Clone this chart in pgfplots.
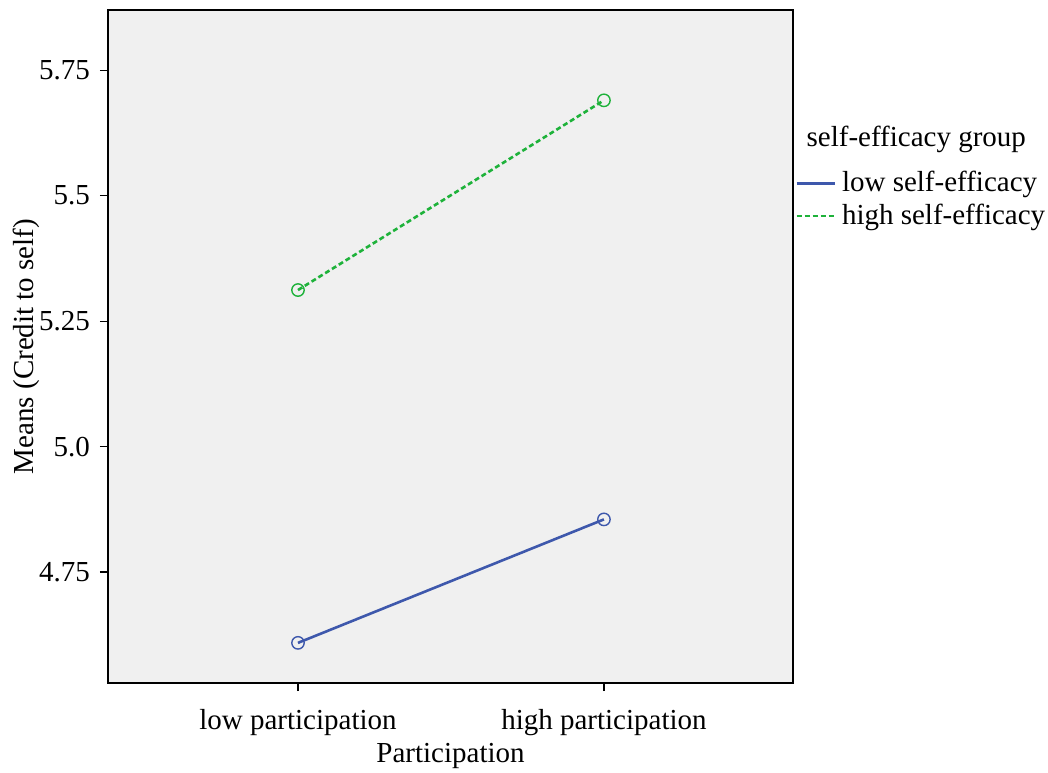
\documentclass[border=0pt]{standalone}
\usepackage{pgfplots}
\pgfplotsset{compat=1.18}
\usepackage{fontspec}
\setmainfont{Liberation Serif}
\definecolor{spssblue}{RGB}{62,88,172}
\definecolor{spssgreen}{RGB}{30,178,58}
\definecolor{bgray}{RGB}{240,240,240}
\begin{document}
\fontsize{14.5}{17.4}\selectfont
\begin{tikzpicture}
\useasboundingbox (-54pt,-44.5pt) rectangle (470pt,341.5pt);
\begin{axis}[
  at={(0,0)}, anchor=south west,
  scale only axis,
  width=342.5pt, height=336.5pt,
  clip mode=individual,
  xmin=-0.621, xmax=1.618,
  ymin=4.529, ymax=5.870,
  xtick={0,1}, xticklabels={low participation, high participation},
  ytick={4.75,5.0,5.25,5.5,5.75},
  yticklabels={4.75,5.0,5.25,5.5,5.75},
  tick align=outside, tick pos=left,
  major tick length=4pt,
  tick style={black, line width=0.6pt},
  axis line style={black, line width=0.8pt},
  axis background/.style={fill=bgray},
  /pgf/number format/assume math mode=true,
  tick label style={font=\fontsize{14.5}{17.4}\selectfont},
  xticklabel style={yshift=-4pt},
  label style={font=\fontsize{14.5}{17.4}\selectfont},
  xlabel={Participation},
  ylabel={Means (Credit to self)},
  xlabel style={yshift=6pt},
  ylabel style={yshift=-10pt},
  legend style={draw=none, fill=none, at={(axis description cs:1.0,0.766)}, anchor=north west,
    xshift=-1pt,
    font=\fontsize{14.5}{17.4}\selectfont, row sep=1pt, inner xsep=2pt, inner ysep=0pt,
    nodes={inner sep=1.5pt}},
  legend cell align=left,
  legend image code/.code={\draw[#1] (0pt,0pt) -- (19pt,0pt); \path (20.5pt,0pt);},
]
\addplot[spssblue, line width=1.3pt, mark=o, mark size=3.1pt, mark options={solid, line width=0.7pt}]
  coordinates {(0,4.609) (1,4.855)};
\addlegendentry{low self-efficacy}
\addplot[spssgreen, line width=1.3pt, dash pattern=on 2.5pt off 1.5pt, mark=o, mark size=3.1pt, mark options={solid, line width=0.7pt}]
  coordinates {(0,5.312) (1,5.690)};
\addlegendentry{high self-efficacy}
\node[anchor=center, font=\fontsize{14.5}{17.4}\selectfont] at (axis description cs:1.18,0.807) {self-efficacy group};
\end{axis}
\end{tikzpicture}
\end{document}
